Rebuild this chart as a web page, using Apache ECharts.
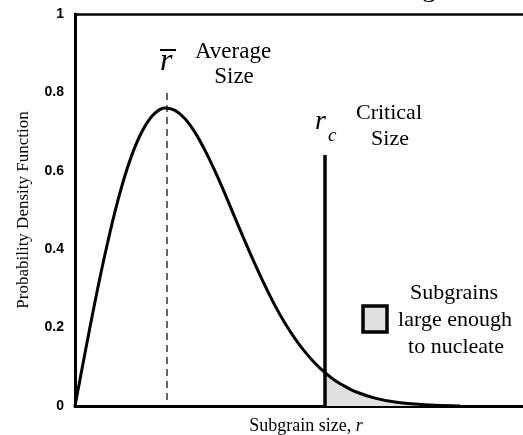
<!DOCTYPE html>
<html>
<head>
<meta charset="utf-8">
<script src="https://cdn.jsdelivr.net/npm/echarts@6/dist/echarts.min.js"></script>
<style>
  html, body { margin: 0; padding: 0; background: #fff; }
  #main { width: 523px; height: 435px; }
</style>
</head>
<body>
<div id="main"></div>
<script>
// subgrain size (arbitrary units) and probability density
var sizes = [0, 1, 2, 3, 4, 5, 6, 7, 8, 9, 10, 11, 12, 13, 14, 15, 16, 17, 18, 19,
  20, 21, 22, 23, 24, 25, 26, 27, 28, 30, 32, 34, 36, 38.5];
var pdf = [0, 0.135, 0.266, 0.387, 0.496, 0.588, 0.661, 0.714, 0.747, 0.76, 0.754,
  0.733, 0.698, 0.652, 0.599, 0.541, 0.48, 0.42, 0.362, 0.307, 0.256, 0.211, 0.172,
  0.138, 0.109, 0.085, 0.065, 0.05, 0.037, 0.02, 0.01, 0.005, 0.002, 0];
var yTicks = [0, 0.2, 0.4, 0.6, 0.8, 1];

var avgSize = 9.2;       // r bar
var avgLine = [0.015, 0.81];
var critSize = 25;       // r_c
var critTop = 0.64;

var curve = sizes.map(function (s, i) { return [s, pdf[i]]; });
var tail = curve.filter(function (p) { return p[0] >= critSize; });

var serif = '"Liberation Serif", "DejaVu Serif", serif';
var sans = '"Liberation Sans", Arial, sans-serif';

var myChart = echarts.init(document.getElementById('main'));

myChart.setOption({
  animation: false,
  grid: { left: 75, top: 14, bottom: 29, right: 0, outerBoundsMode: 'none', containLabel: false },
  xAxis: [
    {
      type: 'value', min: 0, max: 44.8,
      axisLine: { lineStyle: { color: '#000', width: 3 } },
      axisTick: { show: false }, axisLabel: { show: false }, splitLine: { show: false },
      name: '{a|Subgrain size, }{b|r}', nameLocation: 'middle', nameGap: 11,
      nameTextStyle: {
        padding: [0, 0, 0, 14],
        rich: {
          a: { fontFamily: serif, fontSize: 18, color: '#000' },
          b: { fontFamily: serif, fontSize: 18, fontStyle: 'italic', color: '#000' }
        }
      }
    },
    {
      type: 'value', min: 0, max: 44.8, position: 'top',
      axisLine: { lineStyle: { color: '#000', width: 2.5 } },
      axisTick: { show: false }, axisLabel: { show: false }, splitLine: { show: false }
    }
  ],
  yAxis: {
    type: 'value', min: 0, max: 1, interval: 0.2,
    axisLine: { show: true, lineStyle: { color: '#000', width: 3 } },
    axisTick: { show: false }, splitLine: { show: false },
    axisLabel: {
      margin: 11, color: '#000', fontFamily: sans, fontWeight: 'bold', fontSize: 14,
      formatter: function (v) {
        var t = yTicks.find(function (k) { return Math.abs(k - v) < 1e-6; });
        return t === undefined ? '' : String(t);
      }
    },
    name: 'Probability Density Function', nameLocation: 'middle', nameGap: 43,
    nameTextStyle: { fontFamily: serif, fontSize: 17, color: '#000' }
  },
  series: [
    {
      type: 'line', data: tail, symbol: 'none', smooth: 0.3,
      lineStyle: { width: 0 }, areaStyle: { color: '#e0e0e0', opacity: 1 }, z: 1
    },
    {
      type: 'line', data: [[avgSize, avgLine[0]], [avgSize, avgLine[1]]], symbol: 'none',
      lineStyle: { color: '#000', width: 1.2, type: [7, 5] }, z: 2
    },
    {
      type: 'line', data: [[critSize, 0], [critSize, critTop]], symbol: 'none',
      lineStyle: { color: '#000', width: 3.5 }, z: 3
    },
    {
      type: 'line', data: curve, symbol: 'none', smooth: 0.3,
      lineStyle: { color: '#000', width: 3 }, z: 4
    }
  ],
  graphic: [
    // r bar
    { type: 'text', left: 160, top: 46, style: { text: 'r', font: 'italic 32px ' + serif, fill: '#000' } },
    { type: 'line', shape: { x1: 160, y1: 50, x2: 176, y2: 50 }, style: { stroke: '#000', lineWidth: 2 } },
    { type: 'text', style: { text: 'Average', x: 233, y: 52, align: 'center', verticalAlign: 'middle', font: '23px ' + serif, fill: '#000' } },
    { type: 'text', style: { text: 'Size', x: 234, y: 77, align: 'center', verticalAlign: 'middle', font: '23px ' + serif, fill: '#000' } },
    // r_c
    { type: 'text', style: { text: 'r', x: 315, y: 136, verticalAlign: 'bottom', font: 'italic 28px ' + serif, fill: '#000' } },
    { type: 'text', style: { text: 'c', x: 328, y: 145, verticalAlign: 'bottom', font: 'italic 19px ' + serif, fill: '#000' } },
    { type: 'text', style: { text: 'Critical', x: 389, y: 113, align: 'center', verticalAlign: 'middle', font: '22px ' + serif, fill: '#000' } },
    { type: 'text', style: { text: 'Size', x: 390, y: 139, align: 'center', verticalAlign: 'middle', font: '22px ' + serif, fill: '#000' } },
    // legend
    { type: 'rect', shape: { x: 363, y: 306, width: 24, height: 26 }, style: { fill: '#e0e0e0', stroke: '#000', lineWidth: 3.5 } },
    { type: 'text', style: { text: 'Subgrains', x: 454, y: 293, align: 'center', verticalAlign: 'middle', font: '22px ' + serif, fill: '#000' } },
    { type: 'text', style: { text: 'large enough', x: 455, y: 320, align: 'center', verticalAlign: 'middle', font: '22px ' + serif, fill: '#000' } },
    { type: 'text', style: { text: 'to nucleate', x: 456, y: 347, align: 'center', verticalAlign: 'middle', font: '22px ' + serif, fill: '#000' } },
    // descender of cut-off heading
    { type: 'text', style: { text: 'g', x: 422, y: 3, verticalAlign: 'bottom', font: '28px ' + serif, fill: '#000' } }
  ]
});
</script>
</body>
</html>
